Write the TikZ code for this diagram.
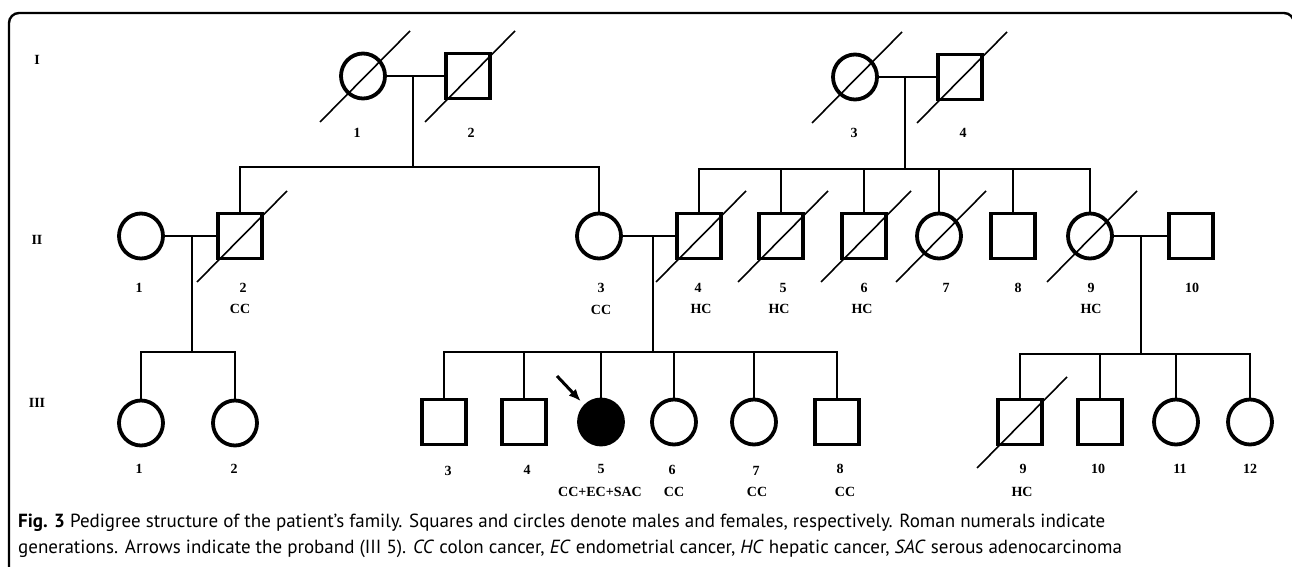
\documentclass[tikz,border=0pt]{standalone}
\usepackage{fontspec}
\setmainfont{Liberation Serif}
\newfontfamily\capfont{PT Sans}
\usetikzlibrary{shapes.geometric,arrows.meta}

\tikzset{
  fem/.style={draw=black, shape=ellipse, line width=3.8pt, minimum width=44pt, minimum height=45pt, inner sep=0pt},
  mal/.style={draw=black, shape=rectangle, line width=3.8pt, minimum width=44pt, minimum height=45pt, inner sep=0pt},
  tag/.style={font=\fontsize{14}{14}\selectfont\bfseries, inner sep=0pt},
  captext/.style={font=\capfont\fontsize{19}{19}\selectfont, inner sep=0pt, anchor=base west},
  link/.style={line width=1.8pt},
  cross/.style={line width=1.6pt},
}
% slash through a deceased person
\newcommand{\dead}[1]{\draw[cross] ([shift={(-43,46)}]#1.center) -- ([shift={(47,-45)}]#1.center);}

\begin{document}
\begin{tikzpicture}[x=1pt, y=-1pt]
  \useasboundingbox (0,0) rectangle (1292,567);
  \draw[line width=2.4pt, rounded corners=10pt] (9,580) -- (9,13) -- (1294,13) -- (1294,580);

  % generations
  \node[tag] (g_1) at (37,60) {I};
  \node[tag] (g_2) at (37,240) {II};
  \node[tag] (g_3) at (37,403) {III};

  % generation I
  \node[fem] (i_1) at (363,76) {};
  \node[mal] (i_2) at (468,76) {};
  \node[fem] (i_3) at (855,77) {};
  \node[mal] (i_4) at (960,77) {};

  % generation II
  \node[fem] (ii_1) at (141,236) {};
  \node[mal] (ii_2) at (240,236) {};
  \node[fem] (ii_3) at (599,236) {};
  \node[mal] (ii_4) at (699,236) {};
  \node[mal] (ii_5) at (781,236) {};
  \node[mal] (ii_6) at (864,236) {};
  \node[fem] (ii_7) at (939,236) {};
  \node[mal] (ii_8) at (1013,236) {};
  \node[fem] (ii_9) at (1090,236) {};
  \node[mal] (ii_10) at (1191,236) {};

  % generation III
  \node[fem] (iii_1) at (141,423) {};
  \node[fem] (iii_2) at (235,423) {};
  \node[mal] (iii_3) at (444,422) {};
  \node[mal] (iii_4) at (524,422) {};
  \node[fem, fill=black] (iii_5) at (601,422) {};
  \node[fem] (iii_6) at (674,422) {};
  \node[fem] (iii_7) at (754,422) {};
  \node[mal] (iii_8) at (837,422) {};
  \node[mal] (iii_9) at (1020,422) {};
  \node[mal] (iii_10) at (1100,422) {};
  \node[fem] (iii_11) at (1176,422) {};
  \node[fem] (iii_12) at (1250,422) {};

  % couples
  \coordinate (u_1) at (413,76);
  \coordinate (s_1) at (413,167);
  \coordinate (u_2) at (905,77);
  \coordinate (s_2) at (905,169);
  \coordinate (u_3) at (192,236);
  \coordinate (s_3) at (192,352);
  \coordinate (u_4) at (653,236);
  \coordinate (s_4) at (653,352);
  \coordinate (u_5) at (1141,236);
  \coordinate (s_5) at (1141,354);

  \draw[link] (i_1) -- (i_2);
  \draw[link] (i_3) -- (i_4);
  \draw[link] (ii_1) -- (ii_2);
  \draw[link] (ii_3) -- (ii_4);
  \draw[link] (ii_9) -- (ii_10);
  \draw[link] (u_1) -- (s_1);
  \draw[link] (u_2) -- (s_2);
  \draw[link] (u_3) -- (s_3);
  \draw[link] (u_4) -- (s_4);
  \draw[link] (u_5) -- (s_5);

  % sibships
  \draw[link] (ii_2.north) |- (s_1) -| (ii_3.north);
  \draw[link] (ii_4.north) |- (s_2) -| (ii_9.north);
  \foreach \c in {ii_5,ii_6,ii_7,ii_8}
    \draw[link] (\c.north) -- (\c.north |- s_2);
  \draw[link] (iii_1.north) |- (s_3) -| (iii_2.north);
  \draw[link] (iii_3.north) |- (s_4) -| (iii_8.north);
  \foreach \c in {iii_4,iii_5,iii_6,iii_7}
    \draw[link] (\c.north) -- (\c.north |- s_4);
  \draw[link] (iii_9.north) |- (s_5) -| (iii_12.north);
  \foreach \c in {iii_10,iii_11}
    \draw[link] (\c.north) -- (\c.north |- s_5);

  % deceased
  \foreach \c in {i_1,i_2,i_3,i_4,ii_2,ii_4,ii_5,ii_6,ii_7,ii_9,iii_9}
    {\dead{\c}}

  % proband
  \coordinate (pb) at (557,376);
  \draw[line width=3pt, -{Latex[length=12pt,width=10pt]}, shorten >=5pt] (pb) -- (iii_5.north west);

  % numbers and diagnoses
  \node[tag] (n_i1) at (357,133) {1};
  \node[tag] (n_i2) at (471,133) {2};
  \node[tag] (n_i3) at (854,133) {3};
  \node[tag] (n_i4) at (963,133) {4};

  \node[tag] (n_ii1) at (139,288) {1};
  \node[tag] (n_ii2) at (243,288) {2};
  \node[tag] (d_ii2) at (240,309) {CC};
  \node[tag] (n_ii3) at (601,288) {3};
  \node[tag] (d_ii3) at (601,310) {CC};
  \node[tag] (n_ii4) at (698,288) {4};
  \node[tag] (d_ii4) at (701,309) {HC};
  \node[tag] (n_ii5) at (783,288) {5};
  \node[tag] (d_ii5) at (779,309) {HC};
  \node[tag] (n_ii6) at (864,288) {6};
  \node[tag] (d_ii6) at (862,309) {HC};
  \node[tag] (n_ii7) at (946,288) {7};
  \node[tag] (n_ii8) at (1018,288) {8};
  \node[tag] (n_ii9) at (1091,288) {9};
  \node[tag] (d_ii9) at (1091,309) {HC};
  \node[tag] (n_ii10) at (1192,288) {10};

  \node[tag] (n_iii1) at (139,469) {1};
  \node[tag] (n_iii2) at (234,469) {2};
  \node[tag] (n_iii3) at (448,471) {3};
  \node[tag] (n_iii4) at (527,470) {4};
  \node[tag] (n_iii5) at (601,469) {5};
  \node[tag] (d_iii5) at (600,492) {CC+EC+SAC};
  \node[tag] (n_iii6) at (672,470) {6};
  \node[tag] (d_iii6) at (674,492) {CC};
  \node[tag] (n_iii7) at (756,471) {7};
  \node[tag] (d_iii7) at (757,492) {CC};
  \node[tag] (n_iii8) at (840,469) {8};
  \node[tag] (d_iii8) at (845,492) {CC};
  \node[tag] (n_iii9) at (1023,469) {9};
  \node[tag] (d_iii9) at (1022,492) {HC};
  \node[tag] (n_iii10) at (1098,469) {10};
  \node[tag] (n_iii11) at (1180,469) {11};
  \node[tag] (n_iii12) at (1250,469) {12};

  % caption
  \node[captext] (c_1) at (18,527) {\textbf{Fig. 3} Pedigree structure of the patient’s family. Squares and circles denote males and females, respectively. Roman numerals indicate};
  \node[captext] (c_2) at (18,553) {generations. Arrows indicate the proband (III 5). \textit{CC} colon cancer, \textit{EC} endometrial cancer, \textit{HC} hepatic cancer, \textit{SAC} serous adenocarcinoma};
\end{tikzpicture}
\end{document}
